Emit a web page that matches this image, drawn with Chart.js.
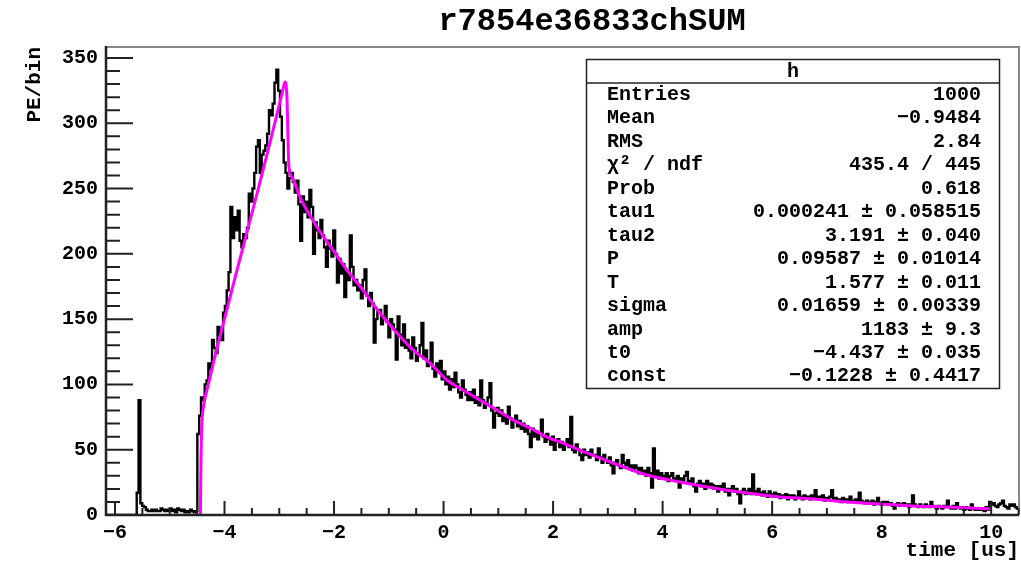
<!DOCTYPE html>
<html><head><meta charset="utf-8">
<script src="https://cdn.jsdelivr.net/npm/chart.js@4.4.1/dist/chart.umd.min.js"></script>
<style>html,body{margin:0;padding:0;background:#fff;overflow:hidden}canvas{display:block}</style>
</head><body>
<canvas id="c" width="1021" height="562"></canvas>
<script>
const chartTitle = "r7854e36833chSUM";
const xTitle = "time [us]";
const yTitle = "PE/bin";
const xMin = -6.164, xMax = 10.508;
const yMin = 0, yMax = 358.4;
const xStep = 2, yStep = 50;
const binStart = -6.207;
const binWidth = 0.03355;

const countsPre = [0,0,0,0,0,0,0,0,0,0,0,0,0,0,0,0,0,0,0,
  17,88,9,7,6,
  4,3,3,4,3,4,3,3,5,4,3,4,3,5,3,4,2,5,4,3,4,2,3,2,4,3,2,3];
const countsRise = [62,76,90,88,100,103,116,112,134,128,
  124,144,138,134,155,160,172,186,236,212,
  228,218,233,210,205,215,212,220,246,240,
  250,262,282,287,262,276,279,283,292,310,
  306,315,331,341,325,305,287,270,262,250,
  258];
const countsDecayA = [262,255,247,256,238,210,244,232,240,228,
  249,236,200,224,218,212,226,214,205,190,
  210,204,198,218,200,178,196,185,192,167,
  186,180,214,190,176,180,172,176,166,180,
  188,168,160,170,162,132,150,156,157,146,
  152,160,148,136,150,146,142,119,152,138,
  130,146,128,134,126,120,136];
const countsDecayB = [128,118,124,130,147,120,126,114,118,132,
  112,106,116,110,118,104,110,100,106,96,
  104,98,109,100,94,90,103,96,92,88,
  94,88,96,86,90,84,103,88,82,86,
  90,101,80,67,78,82,76,80,72,76,
  70,83,74,67,72,76,68,72,66,70,
  64,68,62,52,66,60,64,58,62,73,
  60,56,62,58,54,60,50,56,58,52,
  56,50,54,58,52,75,50,48,54,50,
  46,42,50,46,48,44,50];
const countsDecayC = [46,46,42,
  51,44,40,46,42,40,44,38,32,40,
  42,38,36,46,40,38,42,36,38,34,
  38,36,32,36,33,34,30,36,32,21,
  51,30,34,28,32,30,28,32,26,30,
  32,28,26,30,21,28,26,30,33,26,
  24,28,22,18,24,26,22,24,20,26,
  22,24,23,20,22,18,22,20,24,18,
  20,15,20,22,18,20,16,9,18,20,
  16,18,20,16,31,18,16,20,17,15,
  18,16,14,18,16,14,17,15,16,13,
  15,14,16,12,15,14,15,12];
const countsTail = [14,18,14,12,15,13,14,12,15,13,19,14,
  12,14,15,11,13,12,14,19,12,13,
  11,12,10,13,11,12,10,14,11,10,
  12,10,17,11,10,9,11,9,10,11,
  8,10,13,9,8,10,9,10,8,9,
  7,5,8,9,7,8,9,7,8,6,
  8,15,8,7,6,8,7,6,8,7,
  6,10,7,6,5,7,6,5,7,6,
  11,6,5,7,5,9,6,5,6,4,
  6,5,4,8,5,4,5,4,5,4,
  3,6,4,10,8,9,7,6,8,9,
  11,7,6,5,8,7,8,6,5,6];
const counts = [].concat(countsPre, countsRise, countsDecayA, countsDecayB, countsDecayC, countsTail);

const fitX = [-4.44,-4.43,-4.415,-4.38,-4.30,-4.20,-4.00,-3.80,-3.60,-3.40,-3.20,-3.00,-2.92,-2.895,-2.862,-2.823,-2.768,-2.622,-2.312,-2.020,-1.764,-1.472,-1.161,-0.851,-0.559,-0.249,0.062,0.354,0.665,0.975,1.267,1.578,1.888,2.180,2.619,3.094,3.715,4.317,4.920,5.541,6.143,6.746,7.367,7.969,8.572,9.193,9.978];
const fitY = [0,40,68,84,99,117,150,183,215,247,280,314,328,331.6,322,266.5,259,243.5,220.6,203,187.6,172.3,154.7,139.4,126.4,116.4,103.4,95.7,88,80.4,72.8,66.6,59.7,55.1,47.5,39.8,30.6,25.3,20.7,16.8,13.8,12.3,10,8.4,6.9,6.1,4.6];

const statTitle = "h";
const statNames = ["Entries","Mean","RMS","χ² / ndf","Prob","tau1","tau2","P","T","sigma","amp","t0","const"];
const statValues = ["1000","−0.9484","2.84","435.4 / 445","0.618","0.000241 ± 0.058515","3.191 ± 0.040","0.09587 ± 0.01014","1.577 ± 0.011","0.01659 ± 0.00339","1183 ± 9.3","−4.437 ± 0.035","−0.1228 ± 0.4417"];

const FONT = '"Liberation Mono", "DejaVu Sans Mono", monospace';
const fmt = v => (v < 0 ? '−' + Math.abs(v) : String(v));

const histPoints = counts.map((v, i) => ({x: binStart + i * binWidth, y: v}));
histPoints.push({x: binStart + counts.length * binWidth, y: counts[counts.length - 1]});
const fitPoints = fitX.map((x, i) => ({x: x, y: fitY[i]}));

const rootPlugin = {
  id: 'rootFrame',
  afterDatasetsDraw(chart) {
    const {ctx, chartArea: a, scales: {x, y}} = chart;
    ctx.save();
    ctx.strokeStyle = '#888'; ctx.lineWidth = 2;
    ctx.beginPath(); ctx.moveTo(a.left, a.top); ctx.lineTo(a.right, a.top); ctx.lineTo(a.right, a.bottom); ctx.stroke();
    ctx.strokeStyle = '#222'; ctx.lineWidth = 2.5;
    ctx.beginPath(); ctx.moveTo(a.left, a.top - 1); ctx.lineTo(a.left, a.bottom); ctx.lineTo(a.right, a.bottom); ctx.stroke();
    ctx.lineWidth = 2;
    const yMajLen = 27, yMinLen = 14;
    ctx.beginPath();
    y.ticks.forEach(t => { const p = y.getPixelForValue(t.value); ctx.moveTo(a.left, p); ctx.lineTo(a.left + yMajLen, p); });
    for (let v = yMin; v <= yMax; v += yStep / 5) {
      if (Math.abs(v % yStep) < 1e-6) continue;
      const p = y.getPixelForValue(v); ctx.moveTo(a.left, p); ctx.lineTo(a.left + yMinLen, p);
    }
    const xMajLen = 14, xMinLen = 7;
    x.ticks.forEach(t => { const p = x.getPixelForValue(t.value); ctx.moveTo(p, a.bottom); ctx.lineTo(p, a.bottom - xMajLen); });
    const sub = xStep / 4;
    for (let v = Math.ceil(xMin / sub) * sub; v <= xMax; v += sub) {
      if (Math.abs(Math.round(v / xStep) * xStep - v) < 1e-6) continue;
      const p = x.getPixelForValue(v); ctx.moveTo(p, a.bottom); ctx.lineTo(p, a.bottom - xMinLen);
    }
    ctx.stroke();
    ctx.restore();
  },
  afterDraw(chart) {
    const ctx = chart.ctx;
    ctx.save();
    ctx.fillStyle = '#000';
    ctx.font = 'bold 32px ' + FONT;
    ctx.textAlign = 'center'; ctx.textBaseline = 'middle';
    ctx.fillText(chartTitle, 592, 22);
    const bx = 586.5, by = 59.5, bw = 413, bh = 329;
    ctx.fillStyle = '#fff'; ctx.fillRect(bx, by, bw, bh);
    ctx.strokeStyle = '#222'; ctx.lineWidth = 1.5;
    ctx.strokeRect(bx, by, bw, bh);
    ctx.beginPath(); ctx.moveTo(bx, 83); ctx.lineTo(bx + bw, 83); ctx.stroke();
    ctx.fillStyle = '#000';
    ctx.font = 'bold 20px ' + FONT;
    ctx.textBaseline = 'middle';
    ctx.textAlign = 'center';
    ctx.fillText(statTitle, 793, 72);
    statNames.forEach((n, i) => {
      const yy = 95 + i * 23.45;
      ctx.textAlign = 'left'; ctx.fillText(n, 607, yy);
      ctx.textAlign = 'right'; ctx.fillText(statValues[i], 981, yy);
    });
    ctx.restore();
  }
};

new Chart(document.getElementById('c').getContext('2d'), {
  type: 'scatter',
  data: {datasets: [
    {data: histPoints, showLine: true, stepped: 'after', borderColor: '#000', borderWidth: 2.4, pointRadius: 0, fill: false, order: 2},
    {data: fitPoints, showLine: true, borderColor: '#ff00ff', borderWidth: 3, pointRadius: 0, cubicInterpolationMode: 'monotone', fill: false, order: 1}
  ]},
  options: {
    responsive: false, animation: false, devicePixelRatio: 1,
    layout: {padding: {top: 47, right: 2, left: 0, bottom: 0}},
    plugins: {legend: {display: false}, tooltip: {enabled: false}, title: {display: false}},
    scales: {
      x: {
        type: 'linear', min: xMin, max: xMax,
        grid: {display: false, drawTicks: false}, border: {display: false},
        ticks: {stepSize: xStep, includeBounds: false, autoSkip: false, maxRotation: 0, padding: 6, color: '#000',
          font: {family: FONT, size: 20, weight: 'bold'}, callback: v => fmt(v)},
        title: {display: true, text: xTitle, align: 'end', color: '#000',
          font: {family: FONT, size: 21, weight: 'bold', lineHeight: 1}, padding: {top: 0, bottom: 0.5}},
        afterFit: s => { s.height = 47; }
      },
      y: {
        type: 'linear', min: yMin, max: yMax,
        grid: {display: false, drawTicks: false}, border: {display: false},
        ticks: {stepSize: yStep, includeBounds: false, padding: 8, color: '#000',
          font: {family: FONT, size: 20, weight: 'bold'}, callback: v => fmt(v)},
        title: {display: true, text: yTitle, align: 'end', color: '#000',
          font: {family: FONT, size: 21, weight: 'bold', lineHeight: 1}, padding: {top: 24, bottom: 0}},
        afterFit: s => { s.width = 106; }
      }
    }
  },
  plugins: [rootPlugin]
});
</script>
</body></html>
